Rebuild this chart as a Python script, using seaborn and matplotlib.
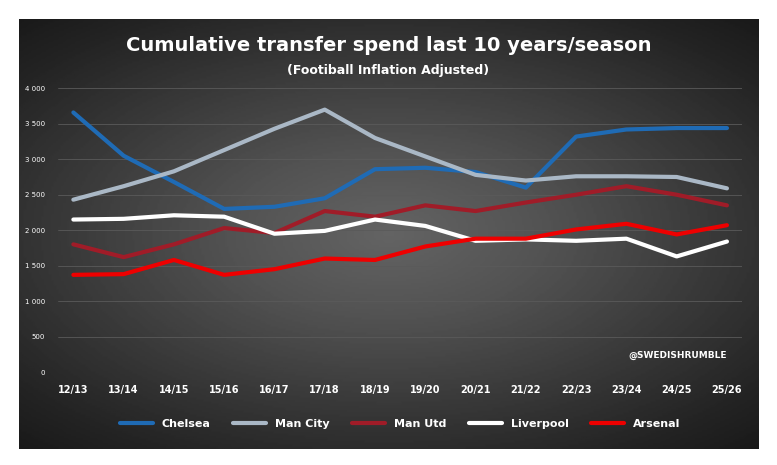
import numpy as np
import pandas as pd
import matplotlib
matplotlib.use("Agg")
import matplotlib.pyplot as plt
import seaborn as sns

seasons = ["12/13", "13/14", "14/15", "15/16", "16/17", "17/18", "18/19",
           "19/20", "20/21", "21/22", "22/23", "23/24", "24/25", "25/26"]
chelsea = [3660, 3050, 2680, 2300, 2330, 2450, 2860, 2880, 2820, 2600, 3320, 3420, 3440, 3440]
man_city = [2430, 2620, 2830, 3130, 3430, 3700, 3300, 3040, 2780, 2700, 2760, 2760, 2750, 2590]
man_utd = [1800, 1620, 1800, 2030, 1960, 2270, 2190, 2350, 2270, 2390, 2500, 2620, 2500, 2350]
liverpool = [2150, 2160, 2210, 2190, 1950, 1990, 2150, 2060, 1850, 1870, 1850, 1880, 1630, 1840]
arsenal = [1370, 1380, 1580, 1370, 1450, 1600, 1580, 1770, 1880, 1880, 2010, 2090, 1940, 2070]

clubs = ["Chelsea", "Man City", "Man Utd", "Liverpool", "Arsenal"]
colors = ["#1f6bb5", "#aab8c6", "#a01c28", "#ffffff", "#ee0000"]

df = pd.DataFrame({"season": seasons, "Chelsea": chelsea, "Man City": man_city,
                   "Man Utd": man_utd, "Liverpool": liverpool, "Arsenal": arsenal})
long = df.melt(id_vars="season", var_name="club", value_name="spend")

sns.set_theme(style="dark")
plt.rcParams["font.family"] = ["DejaVu Sans"]

fig = plt.figure(figsize=(7.77, 4.65), dpi=100)
fig.patch.set_facecolor("white")

# dark radial gradient background
bg = fig.add_axes([0.024, 0.035, 0.952, 0.925])
yy, xx = np.mgrid[-1:1:200j, -1:1:300j]
r = np.sqrt((xx / 1.1) ** 2 + (yy / 1.0) ** 2)
bg.imshow(r, cmap="Greys", vmin=-3.97, vmax=1.86, aspect="auto", extent=[0, 1, 0, 1])
bg.axis("off")

ax = fig.add_axes([0.075, 0.2, 0.88, 0.61])
ax.patch.set_alpha(0)
sns.lineplot(data=long, x="season", y="spend", hue="club", hue_order=clubs,
             palette=colors, linewidth=3, ax=ax, sort=False)
ax.set_ylim(0, 4000)
ax.set_yticks(range(0, 4001, 500))
ax.set_yticklabels([f"{v:,}".replace(",", " ") for v in range(0, 4001, 500)],
                   fontsize=5, color="white")
ax.tick_params(axis="x", colors="white", labelsize=7)
for lab in ax.get_xticklabels():
    lab.set_fontweight("bold")
ax.set_xlim(-0.3, 13.3)
ax.grid(axis="y", color="#5a5a5a", linewidth=0.6)
ax.set_xlabel("")
ax.set_ylabel("")
for s in ax.spines.values():
    s.set_visible(False)

ax.text(13, 200, "@SWEDISHRUMBLE", color="white", fontsize=6.5,
        fontweight="bold", ha="right")

leg = ax.legend(loc="upper center", bbox_to_anchor=(0.5, -0.13), ncol=5,
                frameon=False, fontsize=8, handlelength=3)
for t in leg.get_texts():
    t.set_color("white")
    t.set_fontweight("bold")

fig.text(0.5, 0.89, "Cumulative transfer spend last 10 years/season",
         color="white", fontsize=14, fontweight="bold", ha="center")
fig.text(0.5, 0.84, "(Footiball Inflation Adjusted)", color="white",
         fontsize=9, fontweight="bold", ha="center")

fig.savefig("out.png", dpi=100)
